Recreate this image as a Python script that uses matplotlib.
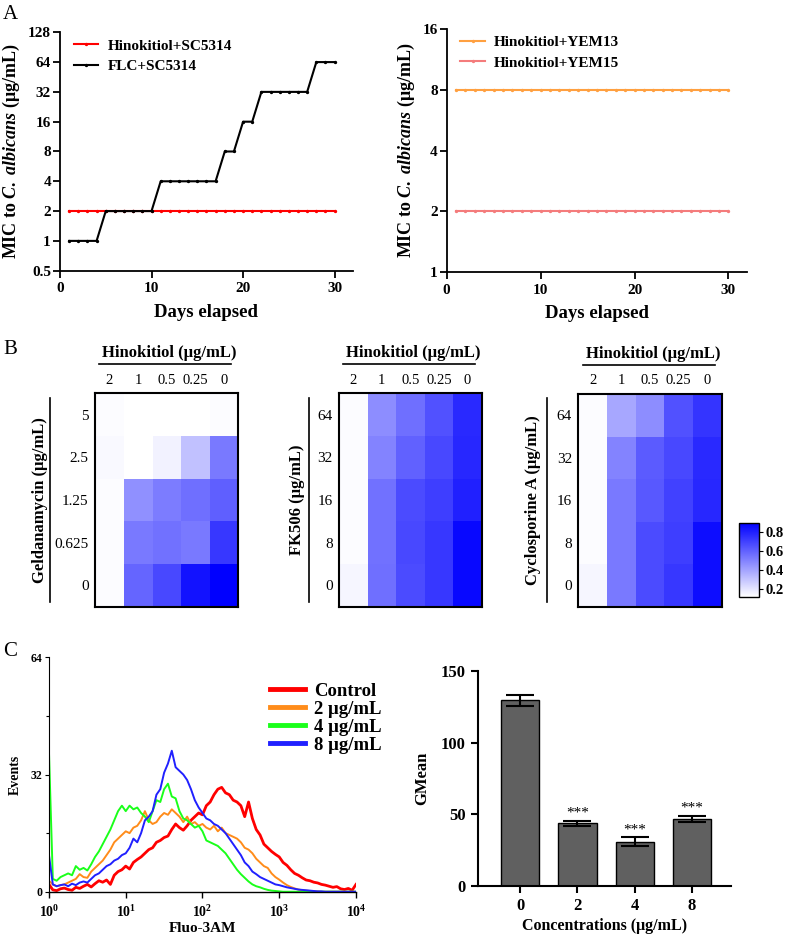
"""Hinokitiol figure: MIC over passages, checkerboard heatmaps, Fluo-3AM flow data."""

import numpy as np
import matplotlib
matplotlib.use('Agg')
import matplotlib.pyplot as plt
from matplotlib import rcParams
from matplotlib.colors import LinearSegmentedColormap
from matplotlib.ticker import NullLocator, FixedLocator
import matplotlib.transforms as mtransforms

rcParams['font.family'] = ['Liberation Serif', 'DejaVu Serif']
rcParams['font.weight'] = 'bold'
rcParams['axes.labelweight'] = 'bold'
rcParams['mathtext.fontset'] = 'custom'
rcParams['mathtext.rm'] = 'Liberation Serif:bold'
rcParams['mathtext.it'] = 'Liberation Serif:italic:bold'
rcParams['mathtext.bf'] = 'Liberation Serif:bold'

########
# Data #
########
# Panel A: MIC (ug/mL) per day
days = list(range(1, 31))
hino_sc5314 = [2] * 30
flc_sc5314 = [1, 1, 1, 1, 2, 2, 2, 2, 2, 2,
              4, 4, 4, 4, 4, 4, 4, 8, 8, 16,
              16, 32, 32, 32, 32, 32, 32, 64, 64, 64]
hino_yem13 = [8] * 30
hino_yem15 = [2] * 30

mic_left_ticks = [0.5, 1, 2, 4, 8, 16, 32, 64, 128]
mic_left_labels = ['0.5', '1', '2', '4', '8', '16', '32', '64', '128']
mic_right_ticks = [1, 2, 4, 8, 16]
mic_right_labels = ['1', '2', '4', '8', '16']

# Panel B: checkerboard OD values (rows top->bottom, columns = hinokitiol)
hino_levels = ['2', '1', '0.5', '0.25', '0']
gel_levels = ['5', '2.5', '1.25', '0.625', '0']
fk_levels = ['64', '32', '16', '8', '0']
csa_levels = ['64', '32', '16', '8', '0']

gel_od = [[0.13, 0.12, 0.12, 0.12, 0.13],
          [0.14, 0.12, 0.16, 0.31, 0.53],
          [0.13, 0.46, 0.52, 0.56, 0.61],
          [0.13, 0.53, 0.55, 0.53, 0.73],
          [0.13, 0.59, 0.68, 0.84, 0.90]]
fk_od = [[0.13, 0.47, 0.56, 0.65, 0.77],
         [0.13, 0.50, 0.60, 0.68, 0.78],
         [0.13, 0.55, 0.67, 0.71, 0.80],
         [0.13, 0.55, 0.68, 0.73, 0.87],
         [0.15, 0.56, 0.67, 0.73, 0.87]]
csa_od = [[0.13, 0.39, 0.47, 0.65, 0.74],
          [0.13, 0.50, 0.62, 0.68, 0.77],
          [0.13, 0.53, 0.63, 0.70, 0.78],
          [0.13, 0.53, 0.67, 0.71, 0.86],
          [0.15, 0.53, 0.67, 0.73, 0.86]]
cbar_ticks = [0.2, 0.4, 0.6, 0.8]

# Panel C: Fluo-3AM histograms, sampled every 0.05 decade from 10^0 to 10^4
hist_log_x = np.round(np.arange(0, 4.001, 0.05), 2)
events_control = [2.0, 0.5, 0.3, 0.8, 1.0, 0.6, 0.4, 1.2, 0.9, 1.5,
                  2.0, 1.3, 2.2, 3.0, 2.6, 3.2, 2.0, 4.5, 5.5, 6.0,
                  7.0, 6.2, 8.0, 8.8, 9.5, 10.5, 11.5, 12.0, 13.5, 14.0,
                  14.8, 15.2, 17.0, 18.5, 17.5, 16.8, 18.0, 19.5, 20.5, 21.5,
                  21.0, 23.5, 24.5, 26.5, 28.0, 28.5, 27.0, 26.5, 25.0, 24.5,
                  23.5, 20.5, 24.5, 20.0, 17.0, 15.5, 13.0, 12.0, 11.0, 10.2,
                  9.5, 8.0, 7.2, 6.0, 5.0, 4.5, 3.8, 3.2, 3.0, 2.6,
                  2.4, 2.0, 1.8, 1.5, 1.2, 1.4, 0.8, 0.6, 0.9, 0.4,
                  2.0]
events_2 = [3.0, 2.0, 1.5, 1.8, 2.0, 2.5, 3.0, 3.5, 4.8, 4.0,
            3.8, 5.5, 6.5, 7.5, 8.5, 10.0, 11.5, 13.5, 14.5, 15.5,
            16.5, 16.0, 17.5, 18.0, 19.5, 22.0, 19.5, 18.5, 19.0, 20.5,
            21.5, 21.0, 22.5, 21.5, 20.5, 19.0, 20.5, 18.5, 19.0, 18.0,
            18.5, 17.5, 17.0, 18.0, 16.5, 17.5, 16.0, 15.5, 15.0, 14.5,
            13.5, 12.0, 11.5, 10.5, 9.0, 8.0, 7.0, 6.5, 5.0, 4.0,
            3.3, 2.5, 1.8, 1.3, 0.9, 0.6, 0.4, 0.3, 0.2, 0.1,
            0.1, 0.0, 0.0, 0.0, 0.0, 0.0, 0.0, 0.0, 0.0, 0.0,
            0.0]
events_4 = [38.0, 3.5, 3.0, 4.0, 4.5, 5.0, 4.5, 7.0, 6.0, 6.5,
            5.8, 7.5, 9.5, 11.0, 13.0, 15.0, 17.0, 19.5, 22.0, 23.5,
            22.0, 23.5, 22.5, 23.0, 21.5, 20.5, 19.0, 22.0, 25.0, 24.5,
            28.0, 29.5, 26.0, 25.5, 22.0, 20.0, 19.5, 18.5, 17.5, 18.0,
            16.5, 14.0, 13.5, 13.0, 12.5, 11.5, 10.5, 9.0, 7.5, 6.0,
            4.8, 3.8, 2.8, 2.0, 1.5, 1.2, 0.8, 0.5, 0.3, 0.2,
            0.1, 0.0, 0.0, 0.0, 0.0, 0.0, 0.0, 0.0, 0.0, 0.0,
            0.0, 0.0, 0.0, 0.0, 0.0, 0.0, 0.0, 0.0, 0.0, 0.0,
            0.0]
events_8 = [10.0, 2.0, 1.5, 1.8, 2.0, 1.5, 2.2, 1.8, 2.5, 2.8,
            2.5, 3.5, 4.5, 5.0, 6.0, 7.0, 7.5, 8.5, 9.0, 10.0,
            10.5, 12.0, 14.5, 13.5, 16.0, 19.5, 20.5, 22.0, 26.5, 28.0,
            32.5, 35.0, 38.5, 34.0, 33.0, 32.0, 30.5, 28.0, 25.0, 23.0,
            21.5, 20.0, 19.5, 18.5, 18.0, 17.0, 16.0, 14.5, 13.0, 11.5,
            10.0, 8.0, 7.0, 5.5, 4.8, 4.0, 3.5, 3.0, 2.5, 2.0,
            1.8, 1.5, 1.2, 1.0, 0.8, 0.6, 0.5, 0.4, 0.3, 0.2,
            0.1, 0.1, 0.0, 0.0, 0.0, 0.0, 0.0, 0.0, 0.0, 0.0,
            0.0]
hist_labels = ['Control', '2 μg/mL', '4 μg/mL', '8 μg/mL']
hist_colors = ['#ff0000', '#ff8c1a', '#1aff1a', '#2020ff']

# Panel C: GMean bar chart
conc_labels = ['0', '2', '4', '8']
gmean = [129.5, 43.6, 30.8, 46.9]
gmean_err = [3.7, 1.7, 3.0, 2.1]
gmean_sig = ['', '***', '***', '***']


######################
# Plotting Functions #
######################
def _style_axes(ax, lw=1.3):
    for side in ['top', 'right']:
        ax.spines[side].set_visible(False)
    for side in ['left', 'bottom']:
        ax.spines[side].set_linewidth(lw)
    ax.tick_params(direction='out', width=lw, length=5)


def plot_mic(fig, rect, series, yticks, ylabels):
    """ Line plot of MIC vs days on a log2 axis. """
    ax = fig.add_axes(rect)
    for values, color, label in series:
        ax.plot(days, values, color=color, lw=1.5, marker='o', ms=1.4,
                label=label)
    ax.set_yscale('log', base=2)
    ax.set_ylim(yticks[0], yticks[-1])
    ax.yaxis.set_major_locator(FixedLocator(yticks))
    ax.yaxis.set_minor_locator(NullLocator())
    ax.set_yticklabels(ylabels)
    ax.set(xlim=(0, 32), xticks=[0, 10, 20, 30])
    _style_axes(ax)
    ax.tick_params(labelsize=11)
    ax.tick_params(axis='y', pad=1.5)
    ax.set_xlabel('Days elapsed', fontsize=13.5, labelpad=6)
    ax.set_ylabel(r'MIC to $\mathit{C.\ albicans}$ (μg/mL)', fontsize=13,
                  labelpad=4)
    ax.legend(loc='upper left', frameon=False, fontsize=11, handlelength=1.6,
              handletextpad=0.6, labelspacing=0.45, bbox_to_anchor=(0.0, 1.03))
    return ax


def plot_heatmap(fig, rect, values, rows, ylabel, vline_x, ylabel_x, cmap):
    """ Checkerboard heatmap with hinokitiol across the top. """
    ax = fig.add_axes(rect)
    im = ax.imshow(values, cmap=cmap, vmin=0.12, vmax=0.9, aspect='auto',
                   interpolation='nearest')
    ax.set_xticks([])
    ax.set_yticks(range(len(rows)))
    ax.set_yticklabels(rows, fontweight='normal', fontsize=11)
    ax.tick_params(axis='y', length=0, pad=4.5)
    for sp in ax.spines.values():
        sp.set_linewidth(1.5)

    trans = mtransforms.blended_transform_factory(ax.transData, ax.transAxes)
    for j, lab in enumerate(hino_levels):
        ax.text(j, 1.062, lab, transform=trans, ha='center', va='center',
                fontsize=10.5, fontweight='normal')
    ax.text(0.52, 1.187, 'Hinokitiol (μg/mL)', transform=ax.transAxes,
            ha='center', va='center', fontsize=12)
    ax.plot([0.03, 0.95], [1.135, 1.135], transform=ax.transAxes,
            color='black', lw=1.2, clip_on=False)
    ax.plot([vline_x, vline_x], [0.02, 0.98], transform=ax.transAxes,
            color='black', lw=1.2, clip_on=False)
    ax.text(ylabel_x, 0.5, ylabel, transform=ax.transAxes, rotation=90,
            ha='center', va='center', fontsize=12)
    return im


def plot_histogram(fig, rect):
    """ Fluo-3AM flow cytometry overlay. """
    ax = fig.add_axes(rect)
    xs = 10 ** hist_log_x
    curves = [events_control, events_2, events_4, events_8]
    widths = [2.0, 1.4, 1.4, 1.4]
    for vals, color, lab, lw in zip(curves, hist_colors, hist_labels, widths):
        ax.plot(xs, vals, color=color, lw=lw, label=lab)
    ax.set_xscale('log')
    ax.set(xlim=(1, 1e4), ylim=(0, 64))
    ax.xaxis.set_major_locator(FixedLocator([1, 10, 100, 1000, 10000]))
    ax.xaxis.set_minor_locator(NullLocator())
    ax.set_xticklabels([r'$10^{0}$', r'$10^{1}$', r'$10^{2}$', r'$10^{3}$',
                        r'$10^{4}$'])
    ax.yaxis.set_major_locator(FixedLocator([0, 32, 64]))
    ax.yaxis.set_minor_locator(FixedLocator([16, 48]))
    for side in ['top', 'right']:
        ax.spines[side].set_visible(False)
    ax.spines['left'].set_linewidth(0.8)
    ax.spines['bottom'].set_linewidth(1.0)
    ax.tick_params(axis='x', labelsize=10, length=4, width=1, pad=5)
    ax.tick_params(axis='y', labelsize=8.5, length=3, width=0.8, pad=2)
    ax.tick_params(axis='y', which='minor', length=2, width=0.8)
    ax.set_xlabel('Fluo-3AM', fontsize=11, labelpad=1)
    ax.set_ylabel('Events', fontsize=10, labelpad=6)
    leg = ax.legend(loc='upper left', bbox_to_anchor=(0.695, 0.925),
                    frameon=False, fontsize=13.5, handlelength=1.9,
                    handletextpad=0.45, labelspacing=0.05, borderaxespad=0)
    for line in leg.get_lines():
        line.set_linewidth(3.5)
    return ax


def plot_gmean(fig, rect):
    """ GMean of Fluo-3AM fluorescence per concentration. """
    ax = fig.add_axes(rect)
    pos = np.arange(len(conc_labels))
    ax.bar(pos, gmean, width=0.67, color='#606060', edgecolor='black', lw=1.0,
           yerr=gmean_err, capsize=10,
           error_kw=dict(elinewidth=1.5, capthick=1.5, ecolor='black'))
    for p, v, e, s in zip(pos, gmean, gmean_err, gmean_sig):
        if s:
            ax.text(p, v + e + 0.8, s, ha='center', va='bottom', fontsize=11,
                    fontweight='normal')
    ax.set(xlim=(-0.74, 3.68), ylim=(0, 150), xticks=pos,
           yticks=[0, 50, 100, 150])
    ax.set_xticklabels(conc_labels)
    _style_axes(ax, lw=1.5)
    ax.tick_params(labelsize=12, length=5)
    ax.set_xlabel('Concentrations (μg/mL)', fontsize=11.5, labelpad=3)
    ax.set_ylabel('GMean', fontsize=12, labelpad=8)
    return ax


########
# Main #
########
fig = plt.figure(figsize=(7.85, 9.36), dpi=100)

# Panel A
plot_mic(fig, [0.0764, 0.7108, 0.3732, 0.2547],
         [(hino_sc5314, 'red', 'Hinokitiol+SC5314'),
          (flc_sc5314, 'black', 'FLC+SC5314')],
         mic_left_ticks, mic_left_labels)
plot_mic(fig, [0.5690, 0.7094, 0.3829, 0.2596],
         [(hino_yem13, '#ffa040', 'Hinokitiol+YEM13'),
          (hino_yem15, '#f47c7c', 'Hinokitiol+YEM15')],
         mic_right_ticks, mic_right_labels)

# Panel B
blue_cmap = LinearSegmentedColormap.from_list('wb', ['#ffffff', '#0000ff'])
plot_heatmap(fig, [0.1210, 0.3518, 0.1826, 0.2280], gel_od, gel_levels,
             'Geldanamycin (μg/mL)', -0.314, -0.384, blue_cmap)
plot_heatmap(fig, [0.4318, 0.3518, 0.1818, 0.2280], fk_od, fk_levels,
             'FK506 (μg/mL)', -0.208, -0.296, blue_cmap)
im = plot_heatmap(fig, [0.7367, 0.3518, 0.1827, 0.2272], csa_od, csa_levels,
                  'Cyclosporine A (μg/mL)', -0.216, -0.314, blue_cmap)
cax = fig.add_axes([0.9418, 0.3625, 0.0251, 0.0791])
cb = fig.colorbar(im, cax=cax, ticks=cbar_ticks)
cb.outline.set_linewidth(1.0)
cb.ax.tick_params(labelsize=10.5, length=3, pad=2)

# Panel C
plot_histogram(fig, [0.0624, 0.0473, 0.3911, 0.2504])
plot_gmean(fig, [0.6085, 0.0537, 0.3227, 0.2294])

# Panel letters
fig.text(0.004, 0.995, 'A', fontsize=15, fontweight='normal', va='top')
fig.text(0.004, 0.637, 'B', fontsize=15, fontweight='normal', va='top')
fig.text(0.004, 0.314, 'C', fontsize=15, fontweight='normal', va='top')

plt.savefig('out.png', dpi=100)
